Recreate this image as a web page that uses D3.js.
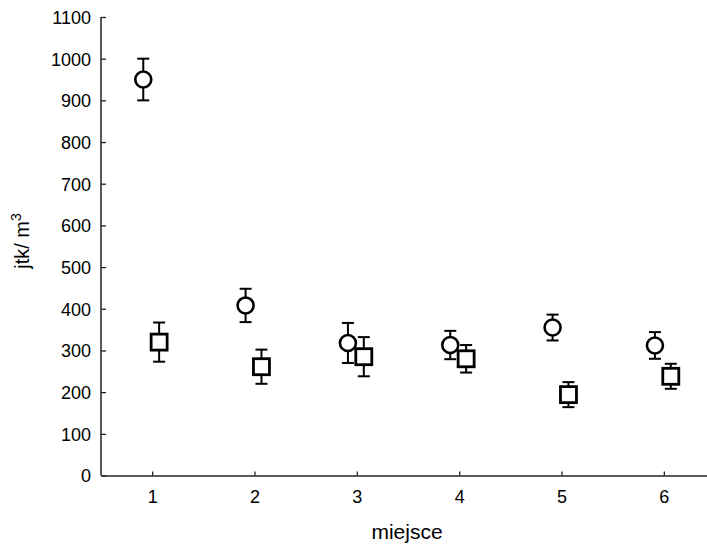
<!DOCTYPE html>
<html><head><meta charset="utf-8">
<script src="https://cdn.jsdelivr.net/npm/d3@7"></script>
<style>body{margin:0;background:#fff}svg{display:block}text{font-family:"Liberation Sans",Arial,sans-serif;fill:#000}</style>
</head><body><svg id="c" width="707" height="546"></svg>
<script>
const places = [1, 2, 3, 4, 5, 6];
const circleMean = [950, 408, 318, 313, 355, 312];
const circleErr  = [50, 40, 48, 34, 31, 32];
const squareMean = [320, 261, 285, 280, 194, 238];
const squareErr  = [47, 41, 47, 33, 30, 30];
const yTicks = [0,100,200,300,400,500,600,700,800,900,1000,1100];
const xTicks = [1,2,3,4,5,6];

const svg = d3.select("#c");
const x = d3.scaleLinear().domain([0.5, 6.5]).range([101, 715]);
const y = d3.scaleLinear().domain([0, 1100]).range([475.5, 17]);

const gy = svg.append("g").attr("transform","translate(101,0)")
  .call(d3.axisLeft(y).tickValues(yTicks).tickFormat(d3.format("d")).tickSizeInner(-5).tickSizeOuter(0).tickPadding(10));
gy.select(".domain").attr("stroke","#222").attr("stroke-width",1.5).attr("d","M0,475.5V17");
gy.selectAll("line").attr("stroke","#222").attr("stroke-width",1.3);
gy.selectAll("text").attr("font-size",18).attr("dy","0.36em");

const gx = svg.append("g").attr("transform","translate(0,475.5)")
  .call(d3.axisBottom(x).tickValues(xTicks).tickFormat(d3.format("d")).tickSizeInner(-4).tickSizeOuter(0).tickPadding(15));
gx.select(".domain").attr("stroke","#222").attr("stroke-width",1.5);
gx.selectAll("line").attr("stroke","#222").attr("stroke-width",1.3);
gx.selectAll("text").attr("font-size",18).attr("dy","0.71em");

svg.append("text").attr("x",407).attr("y",539).attr("text-anchor","middle")
  .attr("font-size",21).text("miejsce");
const yl = svg.append("text").attr("transform","translate(29,241) rotate(-90)")
  .attr("text-anchor","middle").attr("font-size",20);
yl.append("tspan").text("jtk/ m");
yl.append("tspan").attr("font-size",14).attr("dy",-8).text("3");

const cap = 6;
function errbars(mean, err, off) {
  const g = svg.append("g").attr("stroke","#000").attr("stroke-width",2).attr("fill","none");
  places.forEach((p,i)=>{
    const cx = x(p+off);
    g.append("line").attr("x1",cx).attr("x2",cx).attr("y1",y(mean[i]+err[i])).attr("y2",y(mean[i]-err[i]));
    g.append("line").attr("x1",cx-cap).attr("x2",cx+cap).attr("y1",y(mean[i]+err[i])).attr("y2",y(mean[i]+err[i]));
    g.append("line").attr("x1",cx-cap).attr("x2",cx+cap).attr("y1",y(mean[i]-err[i])).attr("y2",y(mean[i]-err[i]));
  });
}
const offC = -0.087, offS = 0.068;
errbars(circleMean, circleErr, offC);
errbars(squareMean, squareErr, offS);

svg.append("g").selectAll("circle").data(places).join("circle")
  .attr("cx",(d)=>x(d+offC)).attr("cy",(d,i)=>y(circleMean[i])).attr("r",8)
  .attr("fill","#fff").attr("stroke","#000").attr("stroke-width",2.6);
svg.append("g").selectAll("rect").data(places).join("rect")
  .attr("x",(d)=>x(d+offS)-8).attr("y",(d,i)=>y(squareMean[i])-8).attr("width",16).attr("height",16)
  .attr("fill","#fff").attr("stroke","#000").attr("stroke-width",2.8);
</script></body></html>
